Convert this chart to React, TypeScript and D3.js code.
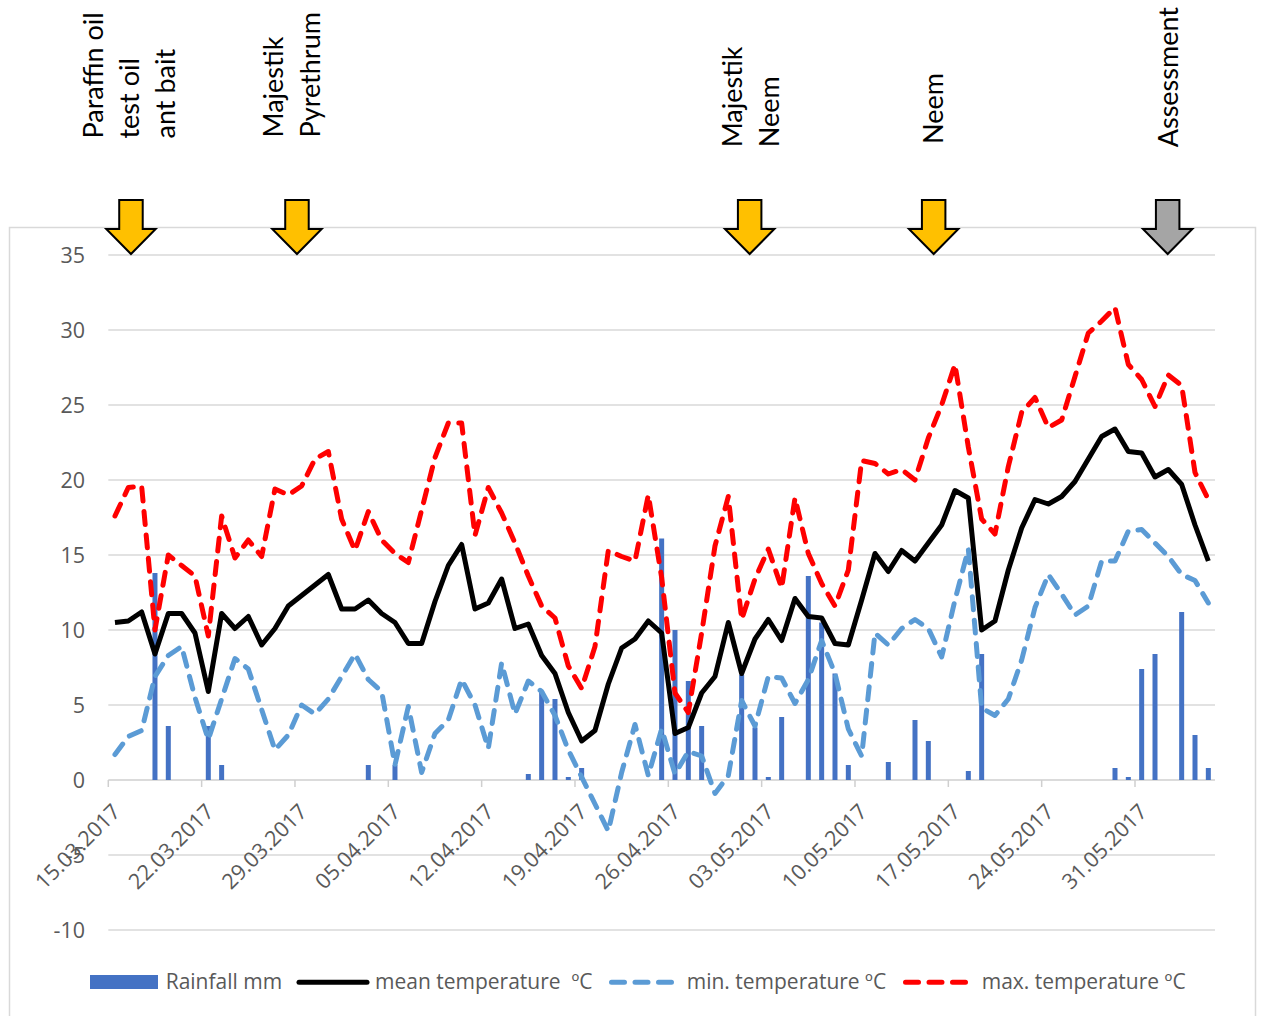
import React from "react";
import * as d3 from "d3";

// ---- data ----
const startDate = Date.UTC(2017, 2, 15); // 15.03.2017
const dayCount = 83; // 15.03.2017 .. 05.06.2017

const meanTemp = [
  10.5, 10.6, 11.2, 8.4, 11.1, 11.1, 9.8, 5.9, 11.1, 10.1, 10.9, 9.0, 10.1, 11.6, 12.3, 13.0, 13.7, 11.4, 11.4, 12.0,
  11.1, 10.5, 9.1, 9.1, 11.9, 14.3, 15.7, 11.4, 11.8, 13.4, 10.1, 10.4, 8.3, 7.1, 4.5, 2.6, 3.3, 6.4, 8.8, 9.4,
  10.6, 9.8, 3.1, 3.5, 5.8, 6.9, 10.5, 7.1, 9.4, 10.7, 9.3, 12.1, 10.9, 10.8, 9.1, 9.0, 12.0, 15.1, 13.9, 15.3,
  14.6, 15.8, 17.0, 19.3, 18.8, 10.0, 10.6, 14.0, 16.8, 18.7, 18.4, 18.9, 19.9, 21.4, 22.9, 23.4, 21.9, 21.8, 20.2, 20.7,
  19.7, 17.0, 14.6,
];

const maxTemp = [
  17.6, 19.5, 19.6, 10.0, 15.0, 14.3, 13.6, 9.6, 17.6, 14.8, 16.0, 14.9, 19.4, 19.0, 19.6, 21.4, 21.9, 17.4, 15.3, 17.9,
  16.0, 15.1, 14.5, 18.0, 21.5, 23.8, 23.8, 16.3, 19.5, 17.8, 15.8, 13.6, 11.6, 10.8, 7.6, 6.1, 8.9, 15.3, 14.9, 14.6,
  19.0, 13.5, 5.8, 4.5, 9.8, 15.6, 18.9, 10.7, 13.4, 15.4, 12.8, 18.8, 15.1, 13.1, 11.6, 14.0, 21.3, 21.1, 20.4, 20.7,
  20.0, 22.8, 25.0, 27.7, 22.2, 17.4, 16.4, 20.9, 24.5, 25.5, 23.5, 24.0, 26.9, 29.8, 30.6, 31.5, 27.7, 26.7, 24.9, 27.0,
  26.3, 20.5, 18.7,
];

const minTemp = [
  1.7, 2.9, 3.3, 6.9, 8.3, 8.9, 5.5, 2.7, 5.4, 8.1, 7.4, 4.7, 2.0, 3.0, 5.0, 4.4, 5.4, 6.9, 8.4, 6.7,
  5.9, 1.0, 4.9, 0.5, 3.1, 4.0, 6.7, 5.0, 2.1, 7.8, 4.4, 6.6, 5.9, 4.3, 2.0, 0.2, -1.6, -3.4, 0.5, 3.7,
  0.3, 3.4, 0.4, 1.9, 1.6, -0.9, 0.3, 5.3, 3.6, 6.9, 6.8, 5.1, 6.7, 9.3, 7.1, 3.4, 1.6, 9.8, 9.0, 10.1,
  10.7, 10.1, 8.2, 12.0, 15.4, 4.8, 4.3, 5.4, 8.0, 11.5, 13.7, 12.4, 11.0, 11.6, 14.6, 14.6, 16.6, 16.7, 15.8, 14.9,
  13.7, 13.3, 11.8,
];

const rainfall = [
  0, 0, 0, 13.8, 3.6, 0, 0, 3.6, 1.0, 0, 0, 0, 0, 0, 0, 0, 0, 0, 0, 1.0,
  0, 1.0, 0, 0, 0, 0, 0, 0, 0, 0, 0, 0.4, 5.9, 5.4, 0.2, 0.8, 0, 0, 0, 0,
  0, 16.1, 10.0, 6.6, 3.6, 0, 0, 7.0, 3.5, 0.2, 4.2, 0, 13.6, 10.5, 7.1, 1.0, 0, 0, 1.2, 0,
  4.0, 2.6, 0, 0, 0.6, 8.4, 0, 0, 0, 0, 0, 0, 0, 0, 0, 0.8, 0.2, 7.4, 8.4, 0,
  11.2, 3.0, 0.8,
];

const yTicks = [-10, -5, 0, 5, 10, 15, 20, 25, 30, 35];
const xTickDays = [0, 7, 14, 21, 28, 35, 42, 49, 56, 63, 70, 77];

// treatment arrows: day position (fractional, from 15.03) and colour kind
const arrowDays = [1.7, 14.15, 48.1, 61.9, 79.45];
const arrowKinds = ["treat", "treat", "treat", "treat", "assess"];

const annotationLines = [
  ["Paraffin oil", "test oil", "ant bait"],
  ["Majestik", "Pyrethrum"],
  ["Majestik", "Neem"],
  ["Neem"],
  ["Assessment"],
];

const legendLabels = ["Rainfall mm", "mean temperature  ºC", "min. temperature ºC", "max. temperature ºC"];

// ---- layout ----
const W = 1262;
const H = 1016;
const FONT = "Lato, 'Open Sans', sans-serif";
const LABEL_FONT = "'Open Sans', 'Noto Sans', sans-serif";
const annotationLayout = [
  { xs: [103.3, 139, 174.8], y: 138.5 },
  { xs: [283, 320], y: 137.5 },
  { xs: [741.7, 779.3], y: 147.3 },
  { xs: [942.7], y: 144 },
  { xs: [1178.3], y: 147.3 },
];

export default function App() {
  const x = d3.scaleLinear().domain([0, dayCount]).range([108.3, 1215]);
  const y = d3.scaleLinear().domain([-10, 35]).range([930, 255]);
  const fmt = d3.utcFormat("%d.%m.%Y");

  const line = d3
    .line<number>()
    .x((_, i) => x(i + 0.5))
    .y((v) => y(v));

  const barW = 5;

  const arrowPath = (cx: number) => {
    const sw = 11.75;
    const hw = 24.7;
    const pts: [number, number][] = [
      [cx - sw, 200],
      [cx + sw, 200],
      [cx + sw, 229],
      [cx + hw, 229],
      [cx, 254],
      [cx - hw, 229],
      [cx - sw, 229],
    ];
    return "M" + pts.map((p) => p.join(",")).join("L") + "Z";
  };

  const dash = "13 10.5";
  const lw = 5;

  return (
    <svg
      width={W}
      height={H}
      style={{ position: "absolute", left: 0, top: 0, background: "#fff" }}
      fontFamily={FONT}
    >
      <rect x={0} y={0} width={W} height={H} fill="#fff" />
      {/* chart frame */}
      <rect x={9.5} y={227.5} width={1246} height={800} fill="none" stroke="#D9D9D9" strokeWidth={1.5} />

      {/* gridlines */}
      {yTicks.map((t) => (
        <line
          key={"g" + t}
          x1={x(0)}
          x2={x(dayCount)}
          y1={y(t)}
          y2={y(t)}
          stroke={t === 0 ? "#CFCFCF" : "#D9D9D9"}
          strokeWidth={1.5}
        />
      ))}
      {/* x axis ticks */}
      {xTickDays.map((d) => (
        <line key={"t" + d} x1={x(d)} x2={x(d)} y1={y(0)} y2={y(0) + 7} stroke="#CFCFCF" strokeWidth={1.5} />
      ))}

      {/* y labels */}
      {yTicks.map((t) => (
        <text
          key={"yl" + t}
          x={85}
          y={y(t)}
          dy="0.36em"
          textAnchor="end"
          fontSize={21.5}
          fill="#595959"
          fontFamily={LABEL_FONT}
        >
          {t}
        </text>
      ))}

      {/* x labels */}
      {xTickDays.map((d) => {
        const ax = x(d) + 13.5;
        const ay = 813;
        return (
          <text
            key={"xl" + d}
            transform={`translate(${ax},${ay}) rotate(-45)`}
            textAnchor="end"
            fontSize={21.5}
            fill="#595959"
            fontFamily={LABEL_FONT}
          >
            {fmt(new Date(startDate + d * 86400000))}
          </text>
        );
      })}

      {/* rainfall bars */}
      {rainfall.map((v, i) =>
        v > 0 ? (
          <rect key={"b" + i} x={x(i + 0.5) - barW / 2} y={y(v)} width={barW} height={y(0) - y(v)} fill="#4472C4" />
        ) : null
      )}

      {/* lines */}
      <path d={line(meanTemp) || ""} fill="none" stroke="#000" strokeWidth={lw} strokeLinejoin="round" />
      <path
        d={line(minTemp) || ""}
        fill="none"
        stroke="#5B9BD5"
        strokeWidth={lw}
        strokeLinejoin="round"
        strokeLinecap="round"
        strokeDasharray={dash}
      />
      <path
        d={line(maxTemp) || ""}
        fill="none"
        stroke="#FF0000"
        strokeWidth={lw}
        strokeLinejoin="round"
        strokeLinecap="round"
        strokeDasharray={dash}
      />

      {/* arrows */}
      {arrowDays.map((d, i) => (
        <path
          key={"a" + i}
          d={arrowPath(x(d))}
          fill={arrowKinds[i] === "assess" ? "#A5A5A5" : "#FFC000"}
          stroke="#000"
          strokeWidth={2}
          strokeLinejoin="miter"
        />
      ))}

      {/* annotations */}
      {annotationLines.map((lines, gi) =>
        lines.map((t, li) => (
          <text
            key={"an" + gi + "-" + li}
            transform={`translate(${annotationLayout[gi].xs[li]},${annotationLayout[gi].y}) rotate(-90)`}
            fontSize={27}
            fill="#000"
          >
            {t}
          </text>
        ))
      )}

      {/* legend */}
      <g fontSize={21} fill="#595959" fontFamily={LABEL_FONT} style={{ whiteSpace: "pre" }}>
        <rect x={90} y={975} width={68} height={14} fill="#4472C4" />
        <text x={165.7} y={989} xmlSpace="preserve">{legendLabels[0]}</text>
        <line x1={299} x2={367} y1={982.3} y2={982.3} stroke="#000" strokeWidth={lw} strokeLinecap="round" />
        <text x={375} y={989} xmlSpace="preserve">{legendLabels[1]}</text>
        <line
          x1={611.5}
          x2={673}
          y1={982.3}
          y2={982.3}
          stroke="#5B9BD5"
          strokeWidth={lw}
          strokeLinecap="round"
          strokeDasharray={dash}
        />
        <text x={686.7} y={989} xmlSpace="preserve">{legendLabels[2]}</text>
        <line
          x1={905.5}
          x2={967}
          y1={982.3}
          y2={982.3}
          stroke="#FF0000"
          strokeWidth={lw}
          strokeLinecap="round"
          strokeDasharray={dash}
        />
        <text x={981.7} y={989} xmlSpace="preserve">{legendLabels[3]}</text>
      </g>
    </svg>
  );
}
